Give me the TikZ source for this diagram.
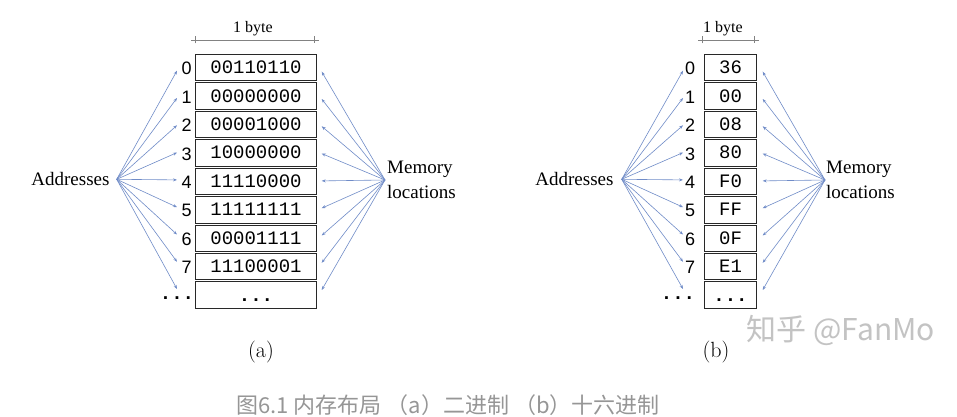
\documentclass[tikz,border=0pt]{standalone}
\usepackage{fontspec}
\usetikzlibrary{arrows.meta}
\newfontfamily\fmono{Liberation Mono}
\newfontfamily\fsans{Liberation Sans}
\newfontfamily\fserif{Liberation Serif}
\newfontfamily\fcjk{Noto Sans CJK SC}
\definecolor{arrowblue}{RGB}{112,140,200}
\definecolor{boxline}{RGB}{40,40,40}
\definecolor{dimgray}{RGB}{130,130,130}
\definecolor{capgray}{RGB}{150,150,150}
\definecolor{markgray}{RGB}{195,195,195}
\tikzset{
  cell/.style={draw=boxline, line width=1pt, minimum height=26.5pt, inner sep=0pt,
    font=\fmono\fontsize{19}{19}\selectfont, text height=12pt, text depth=0pt},
  monodots/.style={inner sep=0pt, font=\fmono\bfseries\fontsize{19}{19}\selectfont, text height=12pt, text depth=0pt},
  addrnum/.style={inner sep=0pt, font=\fsans\fontsize{18}{18}\selectfont},
  label/.style={font=\fserif\fontsize{19}{24.5}\selectfont, align=left},
  bytelabel/.style={font=\fserif\fontsize{16}{16}\selectfont, inner sep=0pt},
  sublabel/.style={font=\fontsize{22}{22}\selectfont, inner sep=0pt},
  link/.style={draw=arrowblue, line width=0.6pt, -{Stealth[length=4pt,width=3pt]}},
  dimline/.style={draw=dimgray, line width=0.8pt}
}
\begin{document}
\begin{tikzpicture}[x=1pt,y=-1pt]
\fill[white] (0,0) rectangle (957,417);
\useasboundingbox (0,0) rectangle (957,417);

% ---------------- panel (a) ----------------
\node[label, anchor=east, inner xsep=7pt, inner ysep=0pt] (a-addr) at (116.7,179.3) {Addresses};
\node[label, anchor=west, inner xsep=2pt, inner ysep=0pt] (a-mem) at (385,180) {Memory\\locations};
\foreach \v [count=\j from 0] in {00110110,00000000,00001000,10000000,11110000,11111111,00001111,11100001} {
  \pgfmathsetmacro\yc{67.65+28.44*\j}
  \node[cell, minimum width=120.3pt] (a-c\j) at (256,\yc) {\v};
  \node[addrnum] (a-n\j) at (186.7,\yc+1) {\j};
  \coordinate (a-l\j) at (177,70.7+27.3*\j);
  \coordinate (a-r\j) at (321.7,71.7+27.3*\j);
  \draw[link] (a-addr.east) -- (a-l\j);
  \draw[link] (a-mem.west) -- (a-r\j);
}
\node[cell, minimum width=120.3pt, font=\fmono\bfseries\fontsize{19}{19}\selectfont] (a-c8) at (256,295.17) {...};
\node[monodots] (a-n8) at (177,293) {...};
\coordinate (a-l8) at (177,289);
\coordinate (a-r8) at (321.7,290);
\draw[link] (a-addr.east) -- (a-l8);
\draw[link] (a-mem.west) -- (a-r8);
\coordinate (a-d1) at (195,40);
\coordinate (a-d2) at (315,40);
\draw[dimline, {Bar[width=7pt]}-{Bar[width=7pt]}] (a-d1) -- (a-d2);
\draw[dimline] (a-d1) -- ++(-4,0) (a-d2) -- ++(4,0);
\node[bytelabel] (a-byte) at (253,29) {1 byte};
\node[sublabel] (a-sub) at (261,352) {(a)};

% ---------------- panel (b) ----------------
\node[label, anchor=east, inner xsep=8pt, inner ysep=0pt] (b-addr) at (621.7,179.3) {Addresses};
\node[label, anchor=west, inner xsep=1pt, inner ysep=0pt] (b-mem) at (825,180) {Memory\\locations};
\foreach \v [count=\j from 0] in {36,00,08,80,F0,FF,0F,E1} {
  \pgfmathsetmacro\yc{67.65+28.44*\j}
  \node[cell, minimum width=52.4pt] (b-c\j) at (730.5,\yc) {\v};
  \node[addrnum] (b-n\j) at (690,\yc+1) {\j};
  \coordinate (b-l\j) at (683,70.7+27.3*\j);
  \coordinate (b-r\j) at (762.7,71.7+27.3*\j);
  \draw[link] (b-addr.east) -- (b-l\j);
  \draw[link] (b-mem.west) -- (b-r\j);
}
\node[cell, minimum width=52.4pt, font=\fmono\bfseries\fontsize{19}{19}\selectfont] (b-c8) at (730.5,295.17) {...};
\node[monodots] (b-n8) at (678,293) {...};
\coordinate (b-l8) at (683,289);
\coordinate (b-r8) at (762.7,290);
\draw[link] (b-addr.east) -- (b-l8);
\draw[link] (b-mem.west) -- (b-r8);
\coordinate (b-d1) at (701.7,40);
\coordinate (b-d2) at (755,40);
\draw[dimline, {Bar[width=7pt]}-{Bar[width=7pt]}] (b-d1) -- (b-d2);
\draw[dimline] (b-d1) -- ++(-4,0) (b-d2) -- ++(4,0);
\node[bytelabel] (b-byte) at (723,29) {1 byte};
\node[sublabel] (b-sub) at (716,352) {(b)};

% ---------------- watermark and caption ----------------
\node[font=\fcjk\fontsize{30}{30}\selectfont, text=markgray, inner sep=0pt] (mark) at (841,330) {知乎 @FanMo};
\node[font=\fcjk\fontsize{22}{22}\selectfont, text=capgray, inner sep=0pt] (cap) at (448,405) {图6.1 内存布局 （a）二进制 （b）十六进制};
\end{tikzpicture}
\end{document}
